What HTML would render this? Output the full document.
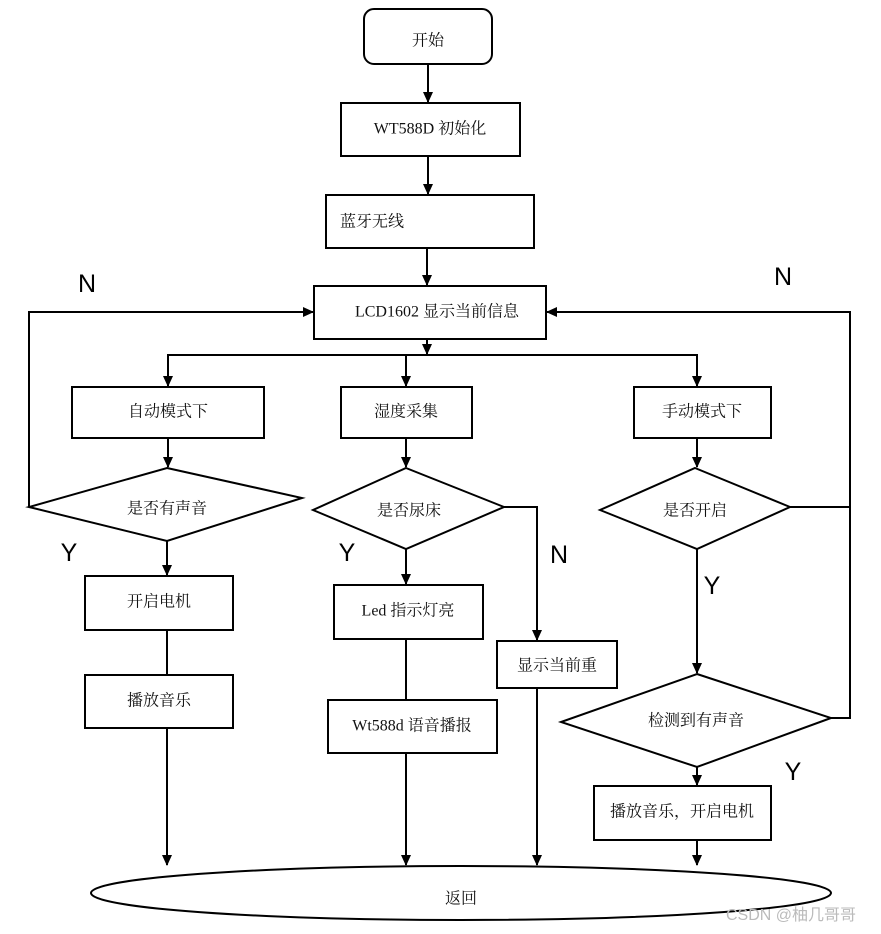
<!DOCTYPE html>
<html><head><meta charset="utf-8"><style>
html,body{margin:0;padding:0;background:#fff;}
svg{display:block}
.t{font-family:"Liberation Serif","Noto Serif CJK SC",serif;font-size:16px;fill:#111;text-anchor:middle;dominant-baseline:middle}
.L{font-family:"Liberation Sans",sans-serif;font-size:25px;fill:#000;text-anchor:middle}
</style></head><body>
<svg width="881" height="934" viewBox="0 0 881 934" xmlns="http://www.w3.org/2000/svg">
<defs><marker id="a" markerWidth="12" markerHeight="12" refX="10" refY="5" orient="auto" markerUnits="userSpaceOnUse"><path d="M0,0 L11,5 L0,10 z" fill="#000"/></marker></defs>
<g stroke="#000" stroke-width="2" fill="none">
<rect x="364" y="9" width="128" height="55" rx="10" fill="#fff"/>
<rect x="341" y="103" width="179" height="53"/>
<rect x="326" y="195" width="208" height="53"/>
<rect x="314" y="286" width="232" height="53"/>
<rect x="72" y="387" width="192" height="51"/>
<rect x="341" y="387" width="131" height="51"/>
<rect x="634" y="387" width="137" height="51"/>
<polygon points="167,468 302,498 167,541 29,507"/>
<polygon points="406,468 504,507 406,549 313,510"/>
<polygon points="695,468 790,507 697,549 600,510"/>
<polygon points="697,674 831,718 697,767 561,722"/>
<rect x="85" y="576" width="148" height="54"/>
<rect x="85" y="675" width="148" height="53"/>
<rect x="334" y="585" width="149" height="54"/>
<rect x="328" y="700" width="169" height="53"/>
<rect x="497" y="641" width="120" height="47"/>
<rect x="594" y="786" width="177" height="54"/>
<ellipse cx="461" cy="893" rx="370" ry="27"/>
<line x1="428" y1="64" x2="428" y2="102" marker-end="url(#a)"/>
<line x1="428" y1="156" x2="428" y2="194" marker-end="url(#a)"/>
<line x1="427" y1="248" x2="427" y2="285" marker-end="url(#a)"/>
<line x1="427" y1="339" x2="427" y2="354" marker-end="url(#a)"/>
<polyline points="168,386 168,355 697,355 697,386" marker-end="url(#a)"/>
<line x1="168" y1="355" x2="168" y2="386" marker-end="url(#a)"/>
<line x1="406" y1="355" x2="406" y2="386" marker-end="url(#a)"/>
<line x1="168" y1="438" x2="168" y2="467" marker-end="url(#a)"/>
<line x1="406" y1="438" x2="406" y2="467" marker-end="url(#a)"/>
<line x1="697" y1="438" x2="697" y2="467" marker-end="url(#a)"/>
<polyline points="29,507 29,312 313,312" marker-end="url(#a)"/>
<polyline points="790,507 850,507"/>
<polyline points="831,718 850,718 850,312 547,312" marker-end="url(#a)"/>
<polyline points="504,507 537,507 537,640" marker-end="url(#a)"/>
<line x1="537" y1="688" x2="537" y2="865" marker-end="url(#a)"/>
<line x1="406" y1="549" x2="406" y2="584" marker-end="url(#a)"/>
<line x1="406" y1="639" x2="406" y2="700"/>
<line x1="406" y1="753" x2="406" y2="865" marker-end="url(#a)"/>
<line x1="167" y1="541" x2="167" y2="575" marker-end="url(#a)"/>
<line x1="167" y1="630" x2="167" y2="675"/>
<line x1="167" y1="728" x2="167" y2="865" marker-end="url(#a)"/>
<line x1="697" y1="549" x2="697" y2="673" marker-end="url(#a)"/>
<line x1="697" y1="767" x2="697" y2="785" marker-end="url(#a)"/>
<line x1="697" y1="840" x2="697" y2="865" marker-end="url(#a)"/>
</g>
<text class="t" x="428" y="42">开始</text>
<text class="t" x="430" y="130">WT588D 初始化</text>
<text class="t" x="340" y="223" style="text-anchor:start">蓝牙无线</text>
<text class="t" x="437" y="313">LCD1602 显示当前信息</text>
<text class="t" x="168" y="413">自动模式下</text>
<text class="t" x="406" y="413">湿度采集</text>
<text class="t" x="702" y="413">手动模式下</text>
<text class="t" x="167" y="510">是否有声音</text>
<text class="t" x="409" y="512">是否尿床</text>
<text class="t" x="695" y="512">是否开启</text>
<text class="t" x="696" y="722">检测到有声音</text>
<text class="t" x="159" y="603">开启电机</text>
<text class="t" x="159" y="702">播放音乐</text>
<text class="t" x="408" y="612">Led 指示灯亮</text>
<text class="t" x="412" y="727">Wt588d 语音播报</text>
<text class="t" x="557" y="667">显示当前重</text>
<text class="t" x="682" y="813">播放音乐，开启电机</text>
<text class="t" x="461" y="900">返回</text>
<text class="L" x="87" y="292">N</text>
<text class="L" x="783" y="285">N</text>
<text class="L" x="69" y="561">Y</text>
<text class="L" x="347" y="561">Y</text>
<text class="L" x="559" y="563">N</text>
<text class="L" x="712" y="594">Y</text>
<text class="L" x="793" y="780">Y</text>
<text x="791" y="920" style="font-family:'Liberation Sans','Noto Sans CJK SC',sans-serif;font-size:16px;fill:#bbb;text-anchor:middle">CSDN @柚几哥哥</text>
</svg>
</body></html>
